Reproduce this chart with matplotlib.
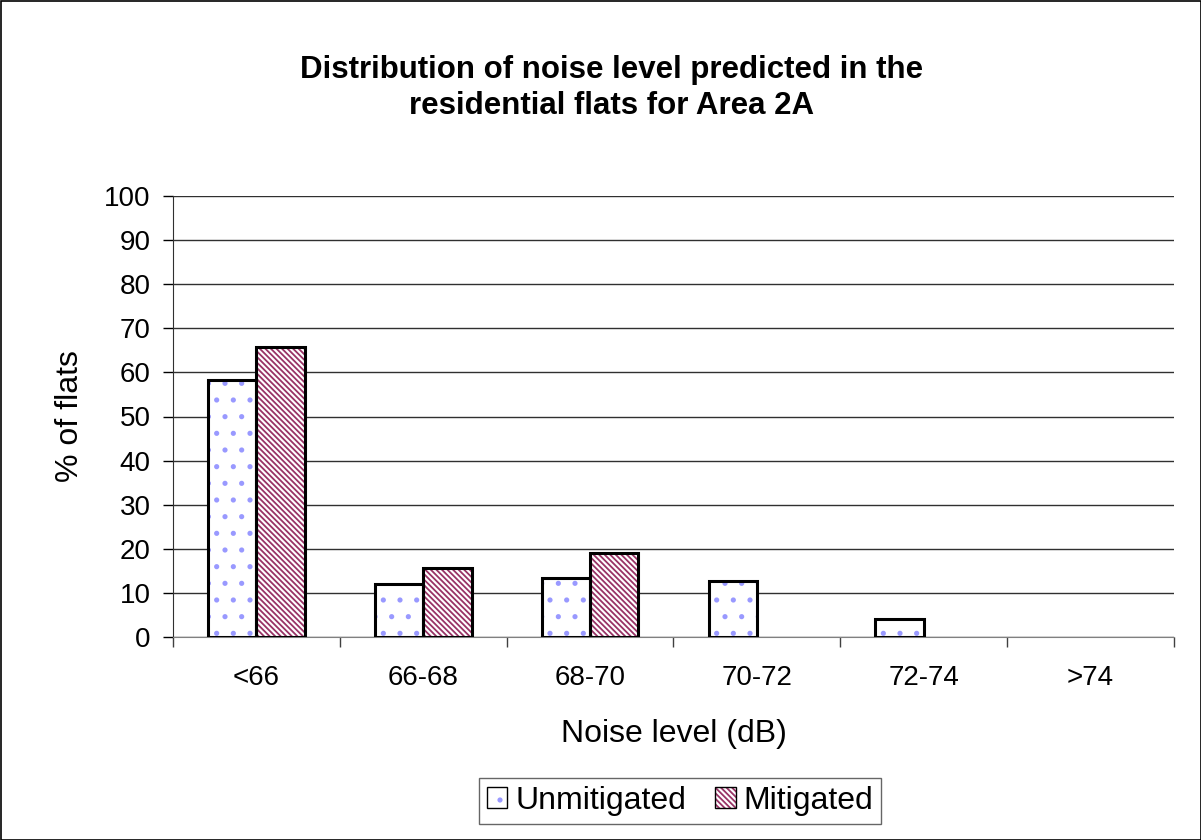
import matplotlib
matplotlib.use("Agg")
import matplotlib.pyplot as plt
import numpy as np
from matplotlib.patches import Rectangle

plt.rcParams['font.family'] = ['Liberation Sans', 'DejaVu Sans']
plt.rcParams['hatch.linewidth'] = 1.3

categories = ["<66", "66-68", "68-70", "70-72", "72-74", ">74"]
unmitigated = [58.3, 12.0, 13.4, 12.7, 4.0, 0.0]
mitigated = [65.8, 15.6, 19.0, 0.0, 0.0, 0.0]
yticks = list(range(0, 101, 10))

fig = plt.figure(figsize=(12.01, 8.40), dpi=100)
ax = fig.add_axes([173/1201, 1-637/840, 1001/1201, (637-196)/840])

x = np.arange(len(categories))
w = 0.29
dot_col = '#9999FF'
hatch_col = '#993366'

h1 = ax.bar(x - w/2, unmitigated, w, facecolor='white', edgecolor=dot_col, hatch='.', linewidth=0, zorder=3)
h2 = ax.bar(x + w/2, mitigated, w, facecolor='white', edgecolor=hatch_col, hatch='\\\\\\\\\\\\', linewidth=0, zorder=3)
for xi, v in zip(x - w/2, unmitigated):
    if v > 0:
        ax.add_patch(Rectangle((xi - w/2, 0), w, v, fill=False, edgecolor='black', linewidth=2.2, zorder=4))
for xi, v in zip(x + w/2, mitigated):
    if v > 0:
        ax.add_patch(Rectangle((xi - w/2, 0), w, v, fill=False, edgecolor='black', linewidth=2.2, zorder=4))

ax.set_xlim(-0.5, len(categories) - 0.5)
ax.set_ylim(0, 100)
ax.set_yticks(yticks)
ax.set_yticklabels([str(t) for t in yticks], fontsize=20)
ax.set_xticks(x)
ax.set_xticklabels(categories, fontsize=20)
ax.tick_params(axis='x', length=0, pad=20)
ax.set_xticks(np.arange(-0.5, len(categories), 1), minor=True)
ax.tick_params(axis='x', which='minor', length=7, width=1, color='#404040')
ax.tick_params(axis='y', length=7, width=1, pad=9)

ax.yaxis.grid(True, color='#303030', linewidth=1, zorder=0)
ax.set_axisbelow(True)
for s in ['top', 'right']:
    ax.spines[s].set_visible(False)
ax.spines['left'].set_color('#303030')
ax.spines['bottom'].set_color('#808080')

ax.set_xlabel("Noise level (dB)", fontsize=23, labelpad=20)
ax.set_ylabel("% of flats", fontsize=23, labelpad=14)

fig.text(612/1201, 1-88/840, "Distribution of noise level predicted in the\nresidential flats for Area 2A",
         ha='center', va='center', fontsize=22.5, fontweight='bold', linespacing=1.3)

o1 = Rectangle((0, 0), 1, 1, fill=False, edgecolor='black', linewidth=1)
o2 = Rectangle((0, 0), 1, 1, fill=False, edgecolor='black', linewidth=1)
leg = fig.legend([(h1[0], o1), (h2[0], o2)], ["Unmitigated", "Mitigated"],
                 loc='center', bbox_to_anchor=(680/1201, 1-801/840), ncol=2, fontsize=23,
                 frameon=True, fancybox=False, edgecolor='#404040', handlelength=0.65, handleheight=0.65,
                 handletextpad=0.25, columnspacing=0.9, borderpad=0.25)
leg.get_frame().set_linewidth(1)

fig.patches.append(Rectangle((0.5/1201, 0.5/840), 1-1/1201, 1-1/840, transform=fig.transFigure,
                             fill=False, edgecolor='black', linewidth=1.2))

fig.savefig("out.png", dpi=100)
